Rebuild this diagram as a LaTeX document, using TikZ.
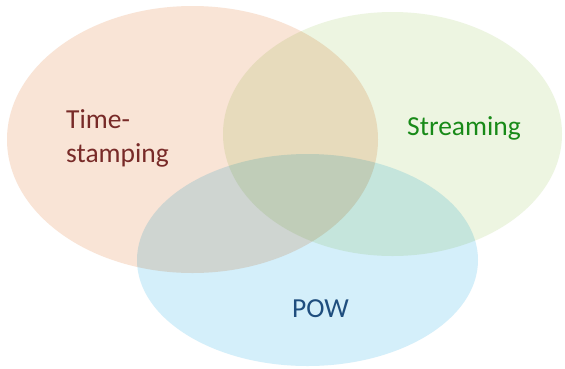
\documentclass[tikz,border=0pt]{standalone}
\usepackage{fontspec}
\setmainfont{Carlito}
\definecolor{orangefill}{HTML}{F9E4D6}
\definecolor{greenfill}{HTML}{EDF5E1}
\definecolor{bluefill}{HTML}{D4EFFA}
\definecolor{redtext}{HTML}{782A28}
\definecolor{greentext}{HTML}{188A18}
\definecolor{bluetext}{HTML}{1F4E7E}
\tikzset{
  label text/.style={inner sep=0pt, font=\fontsize{27.5}{33.5}\selectfont},
}
\begin{document}
\begin{tikzpicture}[x=1pt,y=-1pt]
\useasboundingbox (0,0) rectangle (565,368);
\fill[white] (0,0) rectangle (565,368);
\begin{scope}[blend group=multiply]
  \fill[orangefill] (192.5,139.5) ellipse [x radius=185.5, y radius=133.5];
  \fill[greenfill] (392.5,134) ellipse [x radius=169.5, y radius=122];
  \fill[bluefill] (307.5,260) ellipse [x radius=170.5, y radius=106];
\end{scope}
\node[label text, anchor=base west, align=left, text=redtext] (ts) at (66,162) {Time-\\stamping};
\node[label text, anchor=base west, text=greentext] (st) at (407,135) {Streaming};
\node[label text, anchor=base west, text=bluetext] (pow) at (292,317) {POW};
\end{tikzpicture}
\end{document}
